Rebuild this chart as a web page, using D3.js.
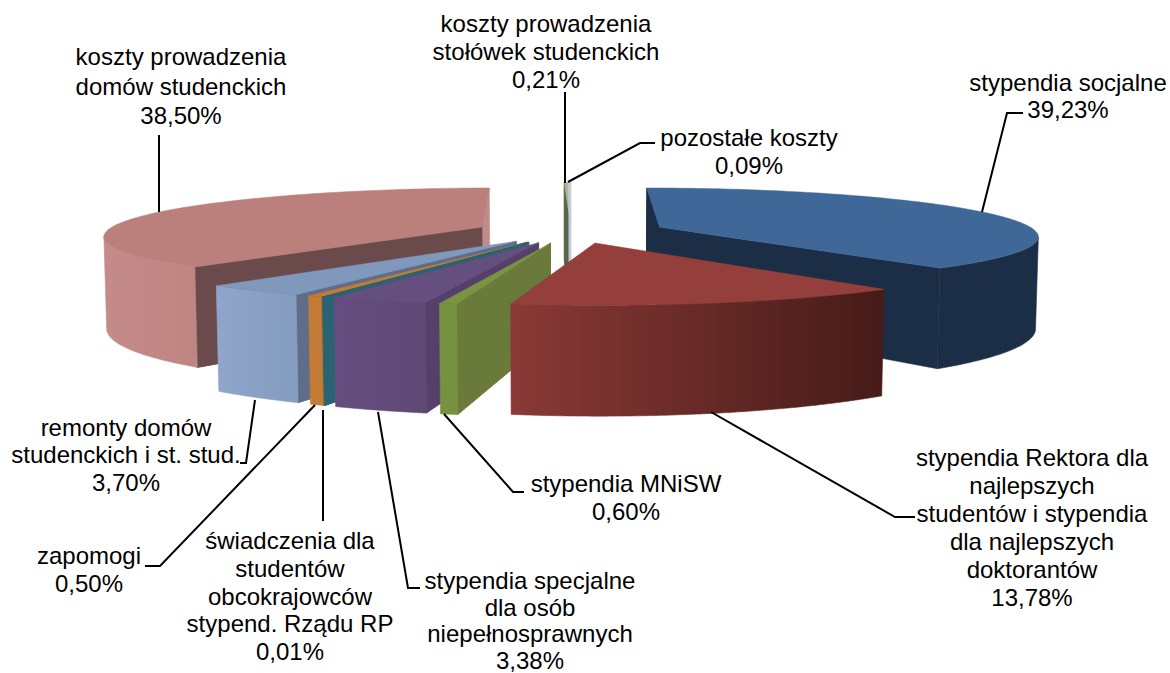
<!DOCTYPE html>
<html><head><meta charset="utf-8">
<script src="https://cdnjs.cloudflare.com/ajax/libs/d3/7.8.5/d3.min.js"></script>
<style>html,body{margin:0;padding:0;background:#fff}svg{display:block}text{font-family:"Liberation Sans",Arial,sans-serif;font-size:24px;fill:#000}</style>
</head><body><div id="c"></div>
<script>
const categories=["stypendia socjalne","stypendia Rektora dla najlepszych studentów i stypendia dla najlepszych doktorantów","stypendia MNiSW","stypendia specjalne dla osób niepełnosprawnych","świadczenia dla studentów obcokrajowców stypend. Rządu RP","zapomogi","remonty domów studenckich i st. stud.","koszty prowadzenia domów studenckich","koszty prowadzenia stołówek studenckich","pozostałe koszty"];
const values=[39.23,13.78,0.60,3.38,0.01,0.50,3.70,38.50,0.21,0.09];
const valueLabels=["39,23%","13,78%","0,60%","3,38%","0,01%","0,50%","3,70%","38,50%","0,21%","0,09%"];
const topColors=["#3f6899","#943f3b","#7a9440","#654f7f","#2a6473","#c47b35","#7f98bb","#bb807c","#a9b994","#c9c9dd"];
const rimLeft=["#1c2e45","#8a3936","#76913f","#664d80","#2a6473","#c47b35","#8fa5cb","#c48b8a","#5a6b4a","#c9c9dd"];
const rimRight=["#1c2e45","#451b19","#76913f","#5f4874","#2a6473","#c47b35","#859dbf","#bf8583","#5a6b4a","#c9c9dd"];
const wallColors=["#1c2e45","#5a2422","#6a7a3b","#55406b","#2a6473","#a86a2d","#5f6d88","#6b4a4b","#55644a","#c9c9dd"];
const wallAltColors=["#1c2e45","#5a2422","#6a7a3b","#55406b","#2a6473","#a86a2d","#5f6d88","#c08c89","#55644a","#c9c9dd"];
const labelLines=[["stypendia socjalne","39,23%"],["stypendia Rektora dla","najlepszych","studentów i stypendia","dla najlepszych","doktorantów","13,78%"],["stypendia MNiSW","0,60%"],["stypendia specjalne","dla osób","niepełnosprawnych","3,38%"],["świadczenia dla","studentów","obcokrajowców","stypend. Rządu RP","0,01%"],["zapomogi","0,50%"],["remonty domów","studenckich i st. stud.","3,70%"],["koszty prowadzenia","domów studenckich","38,50%"],["koszty prowadzenia","stołówek studenckich","0,21%"],["pozostałe koszty","0,09%"]];
const labelAnchors=[[1068,91],[1032,466],[626,492],[530,589],[290,549],[89,564],[126,436],[181,65],[546,32],[749,146]];
const labelSpacing=[27,28,28,26.7,27.8,28,27.3,29.5,28,28];
const leaders=[[[1023,113],[1007,113],[982,212]],[[711,412],[895,517],[915,517]],[[444,414],[513,492],[524,492]],[[378,412],[408,588],[420,588]],[[323,410],[323,521]],[[315,405],[160,566],[145,566]],[[255,400],[246,463],[240,463]],[[159,135],[159,212]],[[565,92],[565,183]],[[655,143],[640,143],[568,182]]];
const W=1170,H=673,cx=571,cy=231,Rx=376,By=47,k=0.17,explode=0.253,shrink=0.006,depth=91,tilt=2;
const drawOrder=[0,8,9,7,6,5,4,3,2,1];
const sx=d3.scaleLinear().domain([-1,1]).range([cx-Rx,cx+Rx]);
const sy=d3.scaleLinear().domain([-1,1]).range([cy-By,cy+By]);
function project(x,y,z){const w=1-k*y+shrink*z;return [sx(x/w),sy(y/w)+z*(depth-tilt*y)/w];}
const arcs=d3.pie().sort(null).startAngle(0).endAngle(2*Math.PI).value(d=>d)(values);
const svg=d3.select("#c").append("svg").attr("width",W).attr("height",H).attr("viewBox",`0 0 ${W} ${H}`);
const defs=svg.append("defs");
const path=d3.line();
const area=p=>d3.polygonArea(p);
const g=svg.append("g");
drawOrder.forEach(i=>{
  const a=arcs[i],mid=(a.startAngle+a.endAngle)/2;
  const ox=explode*Math.sin(mid),oy=-explode*Math.cos(mid);
  const rimPt=(t,z)=>project(ox+Math.sin(t),oy-Math.cos(t),z);
  const apex=z=>project(ox,oy,z);
  const ts=d3.range(0,121).map(j=>a.startAngle+(a.endAngle-a.startAngle)*j/120);
  const wall=t=>[apex(0),rimPt(t,0),rimPt(t,1),apex(1)];
  const w0=wall(a.startAngle),w1=wall(a.endAngle);
  if(area(w0)>0) g.append("path").attr("d",path(w0)+"Z").attr("fill",wallColors[i]).attr("stroke",wallColors[i]).attr("stroke-width",1);
  if(area(w1)<0) g.append("path").attr("d",path(w1)+"Z").attr("fill",wallAltColors[i]).attr("stroke",wallAltColors[i]).attr("stroke-width",.5);
  const front=d3.range(0,120).filter(j=>area([rimPt(ts[j],0),rimPt(ts[j+1],0),rimPt(ts[j+1],1),rimPt(ts[j],1)])>0);
  if(front.length){
    const tf=ts.slice(front[0],front[front.length-1]+2);
    const topRim=tf.map(t=>rimPt(t,0)),botRim=tf.map(t=>rimPt(t,1));
    const xs=topRim.map(p=>p[0]);
    const gid="rim"+i;
    const gr=defs.append("linearGradient").attr("id",gid).attr("gradientUnits","userSpaceOnUse")
      .attr("x1",d3.min(xs)).attr("x2",d3.max(xs)).attr("y1",0).attr("y2",0);
    gr.append("stop").attr("offset",0).attr("stop-color",rimLeft[i]);
    gr.append("stop").attr("offset",1).attr("stop-color",rimRight[i]);
    g.append("path").attr("d",path(topRim.concat(botRim.reverse()))+"Z").attr("fill",`url(#${gid})`).attr("stroke",`url(#${gid})`).attr("stroke-width",.6);
  }
  const rimTop=ts.map(t=>rimPt(t,0));
  g.append("path").attr("d",path([apex(0)].concat(rimTop))+"Z").attr("fill",topColors[i]).attr("stroke",topColors[i]).attr("stroke-width",.5);
});
const leaderG=svg.append("g");
leaders.forEach(l=>leaderG.append("path").attr("d",path(l)).attr("fill","none").attr("stroke","#000").attr("stroke-width",2));
labelLines.forEach((ls,i)=>{
  const t=svg.append("text").attr("text-anchor","middle");
  ls.forEach((s,j)=>t.append("tspan").attr("x",labelAnchors[i][0]).attr("y",labelAnchors[i][1]+j*labelSpacing[i]).text(s));
});
</script></body></html>
